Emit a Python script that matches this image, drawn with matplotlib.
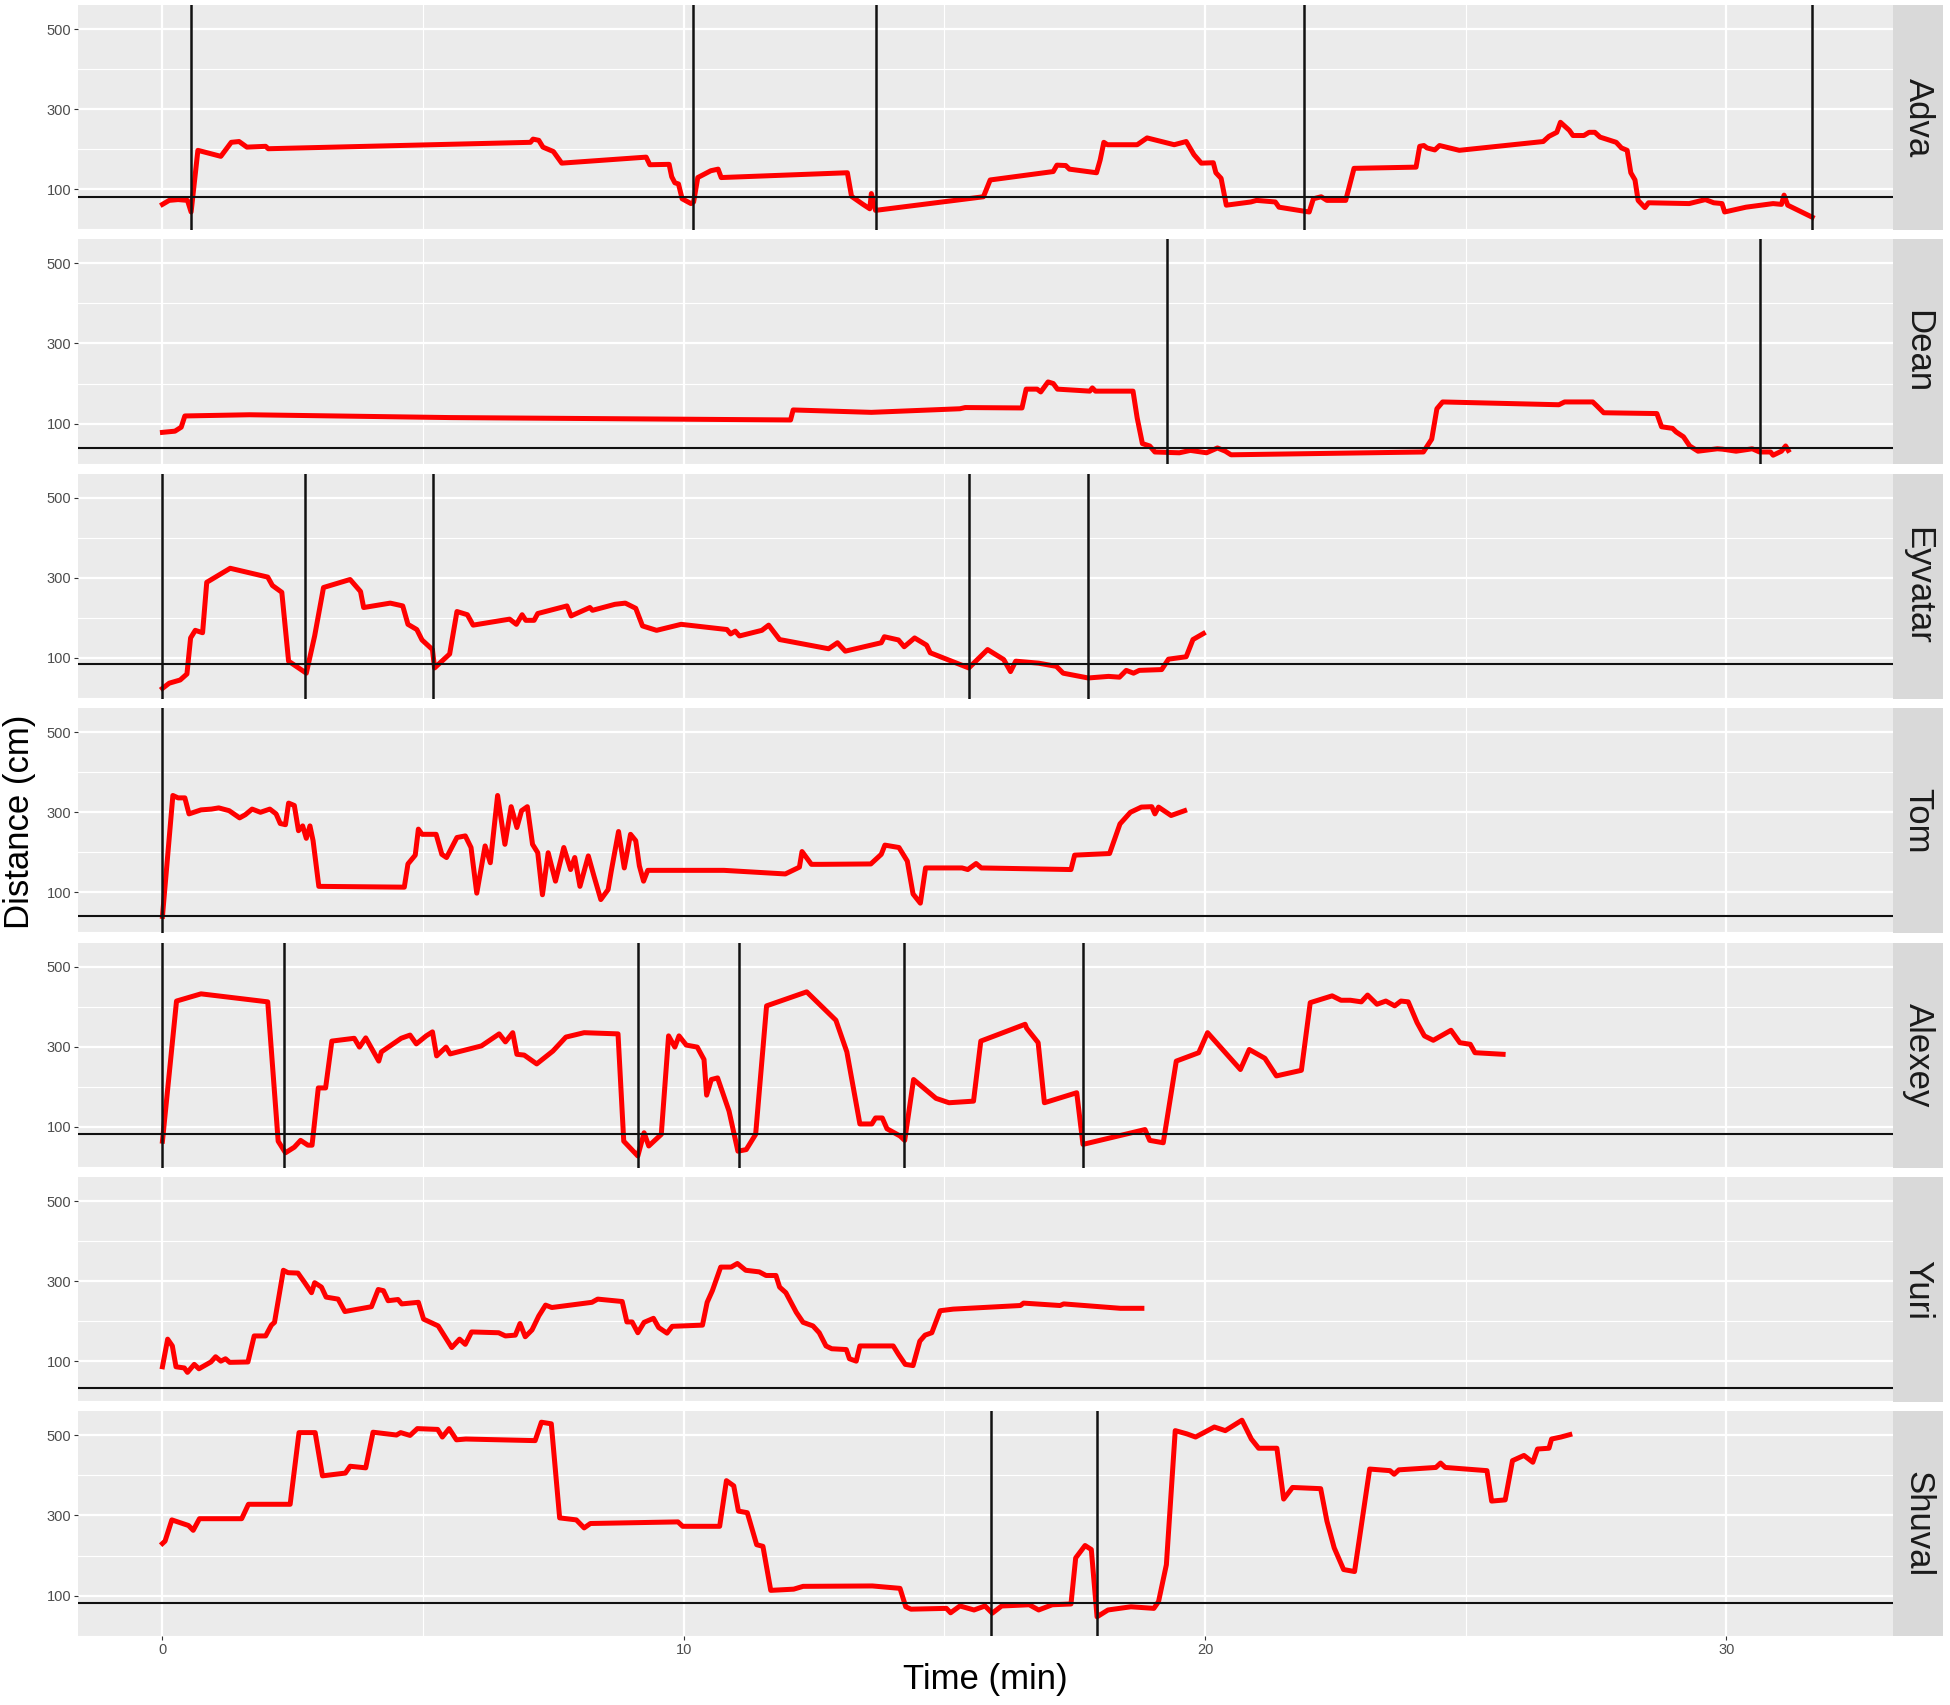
import matplotlib
matplotlib.use("Agg")
import matplotlib.pyplot as plt

plt.rcParams['font.family'] = ['Liberation Sans', 'DejaVu Sans']

names = ["Adva", "Dean", "Eyvatar", "Tom", "Alexey", "Yuri", "Shuval"]

adva_t = [0, 0.13, 0.3, 0.48, 0.55, 0.68, 1.12, 1.32, 1.47, 1.62, 1.98, 2.03, 7.06, 7.11, 7.22, 7.3, 7.5, 7.66, 9.28, 9.35, 9.72, 9.77, 9.83, 9.9, 9.97, 10.14, 10.19, 10.27, 10.52, 10.66, 10.72, 13.14, 13.22, 13.44, 13.57, 13.6, 13.68, 15.75, 15.88, 17.09, 17.16, 17.33, 17.4, 17.92, 17.99, 18.06, 18.13, 18.7, 18.89, 19.41, 19.64, 19.79, 19.93, 20.16, 20.21, 20.31, 20.41, 20.88, 20.99, 21.35, 21.42, 21.9, 22.0, 22.08, 22.23, 22.34, 22.7, 22.86, 24.05, 24.12, 24.2, 24.26, 24.41, 24.5, 24.88, 26.49, 26.6, 26.75, 26.82, 26.99, 27.06, 27.27, 27.37, 27.48, 27.58, 27.89, 27.99, 28.1, 28.17, 28.25, 28.31, 28.44, 28.51, 29.29, 29.6, 29.76, 29.92, 29.97, 30.38, 30.9, 31.06, 31.11, 31.18, 31.65]
adva_d = [62, 72, 74, 72, 43, 197, 182, 217, 219, 205, 207, 201, 217, 225, 222, 205, 194, 165, 180, 161, 162, 131, 116, 113, 76, 64, 68, 129, 146, 150, 129, 141, 82, 62, 51, 89, 47, 81, 123, 144, 160, 159, 150, 141, 173, 217, 211, 211, 228, 211, 219, 186, 165, 166, 141, 127, 60, 68, 72, 68, 55, 45, 43, 76, 81, 72, 72, 152, 155, 207, 209, 203, 198, 209, 197, 219, 232, 242, 267, 247, 234, 234, 242, 242, 230, 217, 203, 197, 141, 123, 72, 54, 66, 64, 74, 66, 64, 43, 55, 64, 62, 85, 60, 30]

dean_t = [0, 0.24, 0.36, 0.43, 1.67, 5.5, 12.05, 12.1, 13.6, 15.3, 15.4, 16.49, 16.57, 16.78, 16.85, 16.99, 17.09, 17.17, 17.79, 17.84, 17.9, 18.62, 18.7, 18.8, 18.94, 19.04, 19.51, 19.72, 20.03, 20.24, 20.39, 20.5, 24.19, 24.35, 24.45, 24.56, 26.79, 26.9, 27.44, 27.52, 27.65, 28.67, 28.76, 28.97, 29.04, 29.18, 29.3, 29.46, 29.83, 29.93, 30.19, 30.5, 30.64, 30.85, 30.9, 31.06, 31.14, 31.19]
dean_d = [78, 81, 91, 119, 122, 115, 109, 134, 128, 137, 140, 139, 186, 186, 179, 204, 200, 186, 181, 189, 181, 181, 114, 50, 44, 29, 27, 33, 27, 39, 31, 22, 29, 61, 137, 154, 147, 154, 154, 144, 127, 125, 92, 88, 79, 67, 44, 31, 37, 36, 31, 37, 29, 29, 21, 31, 44, 33]

eyvatar_t = [0, 0.13, 0.34, 0.47, 0.54, 0.63, 0.77, 0.85, 1.3, 2.02, 2.11, 2.29, 2.42, 2.76, 2.92, 3.09, 3.6, 3.8, 3.86, 4.37, 4.61, 4.71, 4.88, 4.98, 5.18, 5.22, 5.51, 5.65, 5.85, 5.96, 6.66, 6.79, 6.9, 6.97, 7.13, 7.2, 7.76, 7.84, 8.2, 8.25, 8.68, 8.88, 9.08, 9.21, 9.48, 9.95, 10.83, 10.9, 10.99, 11.07, 11.5, 11.63, 11.84, 12.78, 12.95, 13.1, 13.79, 13.85, 14.12, 14.23, 14.43, 14.66, 14.73, 15.47, 15.83, 16.14, 16.27, 16.37, 16.81, 17.15, 17.28, 17.76, 18.15, 18.36, 18.49, 18.63, 18.74, 19.17, 19.3, 19.64, 19.77, 19.97]
eyvatar_d = [24, 37, 45, 60, 150, 169, 163, 289, 324, 302, 281, 264, 92, 62, 155, 276, 296, 266, 226, 237, 230, 184, 171, 145, 121, 75, 110, 216, 208, 182, 197, 184, 208, 194, 194, 211, 230, 205, 226, 219, 234, 237, 224, 180, 169, 184, 171, 160, 167, 155, 169, 182, 146, 123, 138, 117, 138, 153, 145, 128, 150, 132, 113, 75, 121, 96, 66, 92, 87, 79, 62, 50, 54, 52, 69, 62, 69, 71, 97, 103, 146, 161]

tom_t = [0, 0.2, 0.3, 0.43, 0.51, 0.74, 0.94, 1.08, 1.28, 1.48, 1.59, 1.72, 1.88, 2.06, 2.18, 2.26, 2.36, 2.42, 2.53, 2.61, 2.69, 2.76, 2.83, 2.89, 3.0, 4.64, 4.71, 4.85, 4.91, 4.98, 5.25, 5.36, 5.45, 5.65, 5.81, 5.92, 6.03, 6.19, 6.29, 6.43, 6.57, 6.69, 6.8, 6.89, 7.0, 7.1, 7.2, 7.29, 7.4, 7.54, 7.7, 7.83, 7.91, 8.01, 8.17, 8.28, 8.41, 8.55, 8.61, 8.75, 8.86, 8.98, 9.08, 9.15, 9.23, 9.31, 10.77, 11.95, 12.22, 12.27, 12.45, 12.65, 13.59, 13.79, 13.86, 14.13, 14.29, 14.4, 14.54, 14.64, 15.34, 15.45, 15.61, 15.71, 17.43, 17.5, 18.17, 18.37, 18.57, 18.78, 18.98, 19.04, 19.11, 19.35, 19.61]
tom_d = [40, 342, 336, 336, 296, 306, 308, 311, 304, 286, 294, 308, 300, 308, 296, 272, 269, 323, 317, 254, 266, 235, 266, 229, 115, 113, 171, 193, 258, 245, 245, 195, 187, 237, 241, 212, 98, 216, 174, 342, 220, 314, 262, 304, 314, 220, 199, 94, 199, 128, 212, 157, 187, 115, 191, 140, 82, 107, 153, 252, 161, 245, 229, 166, 128, 155, 155, 146, 163, 202, 170, 170, 171, 195, 218, 212, 178, 96, 73, 161, 161, 157, 172, 161, 157, 193, 197, 271, 300, 313, 314, 296, 313, 292, 304]

alexey_t = [0, 0.27, 0.74, 2.02, 2.22, 2.36, 2.53, 2.65, 2.79, 2.87, 2.99, 3.13, 3.25, 3.68, 3.78, 3.9, 4.15, 4.2, 4.58, 4.75, 4.87, 5.06, 5.18, 5.26, 5.44, 5.52, 6.12, 6.46, 6.58, 6.72, 6.8, 6.94, 7.18, 7.49, 7.74, 8.09, 8.74, 8.85, 9.12, 9.24, 9.33, 9.57, 9.71, 9.83, 9.91, 10.05, 10.26, 10.39, 10.44, 10.53, 10.65, 10.87, 11.04, 11.2, 11.38, 11.59, 12.36, 12.92, 13.13, 13.38, 13.61, 13.68, 13.81, 13.9, 14.15, 14.24, 14.41, 14.84, 15.09, 15.56, 15.7, 16.55, 16.58, 16.8, 16.92, 17.54, 17.66, 18.85, 18.94, 19.2, 19.45, 19.88, 20.05, 20.68, 20.85, 21.15, 21.37, 21.85, 22.02, 22.44, 22.61, 22.79, 23.0, 23.12, 23.3, 23.47, 23.64, 23.76, 23.9, 24.07, 24.21, 24.38, 24.72, 24.89, 25.09, 25.18, 25.72]
alexey_d = [64, 414, 432, 412, 64, 35, 49, 66, 54, 54, 197, 197, 314, 321, 299, 322, 264, 287, 321, 329, 307, 327, 337, 277, 299, 282, 302, 332, 312, 335, 281, 279, 257, 289, 324, 335, 332, 64, 27, 85, 52, 81, 327, 299, 327, 304, 299, 268, 179, 218, 222, 139, 39, 43, 81, 402, 437, 366, 287, 107, 107, 122, 122, 95, 77, 66, 218, 171, 160, 164, 314, 356, 346, 310, 160, 185, 56, 93, 66, 60, 264, 285, 335, 243, 293, 271, 227, 241, 410, 427, 416, 416, 412, 429, 406, 414, 402, 414, 412, 360, 327, 316, 341, 310, 306, 285, 281]

yuri_t = [0, 0.1, 0.19, 0.26, 0.42, 0.48, 0.61, 0.7, 0.93, 1.02, 1.12, 1.21, 1.29, 1.64, 1.76, 1.98, 2.09, 2.15, 2.32, 2.41, 2.6, 2.73, 2.86, 2.92, 3.05, 3.14, 3.37, 3.5, 4.01, 4.14, 4.24, 4.33, 4.52, 4.59, 4.91, 5.01, 5.29, 5.55, 5.7, 5.81, 5.93, 6.45, 6.58, 6.77, 6.86, 6.96, 7.09, 7.22, 7.35, 7.47, 8.24, 8.35, 8.82, 8.91, 9.01, 9.12, 9.24, 9.42, 9.52, 9.68, 9.78, 10.36, 10.45, 10.55, 10.71, 10.91, 11.03, 11.19, 11.45, 11.58, 11.77, 11.84, 11.96, 12.16, 12.29, 12.48, 12.6, 12.73, 12.84, 13.12, 13.18, 13.31, 13.38, 14.02, 14.12, 14.25, 14.4, 14.53, 14.63, 14.76, 14.92, 15.17, 16.46, 16.52, 17.22, 17.29, 18.38, 18.79]
yuri_d = [86, 155, 138, 86, 83, 72, 92, 81, 98, 111, 100, 106, 97, 98, 163, 163, 190, 197, 327, 321, 320, 296, 271, 296, 285, 260, 255, 224, 236, 279, 276, 251, 254, 243, 247, 205, 188, 134, 155, 142, 173, 171, 163, 165, 194, 161, 178, 213, 240, 234, 247, 255, 249, 198, 198, 171, 197, 207, 184, 170, 187, 190, 247, 276, 335, 335, 344, 327, 323, 314, 314, 285, 271, 222, 197, 188, 171, 138, 131, 129, 106, 100, 138, 138, 117, 92, 89, 150, 165, 171, 226, 230, 239, 245, 239, 243, 232, 232]

shuval_t = [0, 0.05, 0.18, 0.5, 0.59, 0.71, 1.52, 1.65, 2.45, 2.62, 2.93, 3.07, 3.51, 3.6, 3.9, 4.04, 4.49, 4.57, 4.75, 4.89, 5.28, 5.37, 5.5, 5.64, 5.82, 7.15, 7.27, 7.46, 7.62, 7.94, 8.09, 8.21, 9.89, 9.98, 10.69, 10.82, 10.96, 11.05, 11.22, 11.4, 11.52, 11.67, 12.11, 12.29, 13.62, 14.15, 14.26, 14.36, 15.04, 15.12, 15.3, 15.57, 15.78, 15.92, 16.1, 16.63, 16.81, 17.07, 17.43, 17.52, 17.7, 17.82, 17.93, 18.14, 18.58, 19.02, 19.11, 19.26, 19.43, 19.65, 19.82, 20.18, 20.39, 20.71, 20.89, 21.03, 21.38, 21.51, 21.68, 22.22, 22.34, 22.48, 22.66, 22.87, 23.16, 23.55, 23.63, 23.72, 24.43, 24.52, 24.61, 25.41, 25.5, 25.76, 25.9, 26.12, 26.29, 26.38, 26.6, 26.65, 26.83, 27.0]
shuval_d = [230, 236, 289, 275, 263, 292, 292, 328, 328, 507, 507, 399, 406, 423, 419, 508, 501, 507, 500, 517, 515, 496, 517, 489, 491, 487, 533, 529, 294, 289, 269, 280, 284, 273, 273, 387, 374, 311, 307, 227, 223, 113, 116, 123, 124, 118, 72, 66, 68, 57, 74, 64, 74, 56, 74, 77, 64, 77, 79, 194, 225, 215, 47, 64, 72, 68, 85, 177, 512, 504, 496, 521, 512, 538, 491, 468, 468, 341, 370, 367, 286, 219, 165, 160, 416, 412, 403, 414, 420, 431, 420, 412, 336, 339, 437, 450, 433, 466, 468, 491, 496, 502]

thresholds = [80, 39, 86, 40, 82, 32, 82]

adva_events = [0.55, 10.17, 13.68, 21.9, 31.65]
dean_events = [19.28, 30.64]
eyvatar_events = [0, 2.74, 5.2, 15.47, 17.76]
tom_events = [0]
alexey_events = [0, 2.34, 9.12, 11.07, 14.22, 17.66]
yuri_events = []
shuval_events = [15.9, 17.92]

series = [
    (adva_t, adva_d, adva_events),
    (dean_t, dean_d, dean_events),
    (eyvatar_t, eyvatar_d, eyvatar_events),
    (tom_t, tom_d, tom_events),
    (alexey_t, alexey_d, alexey_events),
    (yuri_t, yuri_d, yuri_events),
    (shuval_t, shuval_d, shuval_events),
]

W, H = 1950, 1705
fig = plt.figure(figsize=(W / 100, H / 100), dpi=100)
fig.patch.set_facecolor("white")

left, right = 78, 1893
strip_w = 50
top0, step, ph = 5, 234.4, 225

for i, (name, (t, d, ev)) in enumerate(zip(names, series)):
    top = top0 + i * step
    ax = fig.add_axes([left / W, 1 - (top + ph) / H, (right - left) / W, ph / H])
    ax.set_facecolor("#EBEBEB")
    ax.set_xlim(-1.62, 33.2)
    ax.set_ylim(-2, 560)
    for yv in [0, 200, 400]:
        ax.axhline(yv, color="white", lw=0.8, zorder=0.5)
    for xv in [5, 15, 25]:
        ax.axvline(xv, color="white", lw=0.8, zorder=0.5)
    for yv in [100, 300, 500]:
        ax.axhline(yv, color="white", lw=1.6, zorder=0.6)
    for xv in [0, 10, 20, 30]:
        ax.axvline(xv, color="white", lw=1.6, zorder=0.6)
    ax.plot(t, d, color="#FF0000", lw=3.6, zorder=2, solid_joinstyle="round")
    ax.axhline(thresholds[i], color="#111111", lw=1.5, zorder=3)
    for e in ev:
        ax.axvline(e, color="#111111", lw=1.8, zorder=3)
    ax.set_yticks([100, 300, 500])
    ax.set_yticklabels(["100", "300", "500"])
    ax.set_xticks([0, 10, 20, 30])
    ax.tick_params(axis="both", length=3, width=0.8, color="#333333",
                   labelsize=10.5, labelcolor="#4D4D4D", pad=2)
    if i < len(names) - 1:
        ax.tick_params(axis="x", length=0, labelbottom=False)
    for s in ax.spines.values():
        s.set_visible(False)
    sax = fig.add_axes([right / W, 1 - (top + ph) / H, strip_w / W, ph / H])
    sax.set_facecolor("#D9D9D9")
    sax.set_xticks([])
    sax.set_yticks([])
    for s in sax.spines.values():
        s.set_visible(False)
    sax.text(0.5, 0.5, name, rotation=-90, ha="center", va="center",
             fontsize=25, color="#1A1A1A", transform=sax.transAxes)

fig.text(20 / W, 1 - 822 / H, "Distance (cm)", rotation=90, ha="center", va="center",
         fontsize=25, color="black")
fig.text((left + right) / 2 / W, 1 - 1680 / H, "Time (min)", ha="center", va="center",
         fontsize=25, color="black")

fig.savefig("out.png", dpi=100)
